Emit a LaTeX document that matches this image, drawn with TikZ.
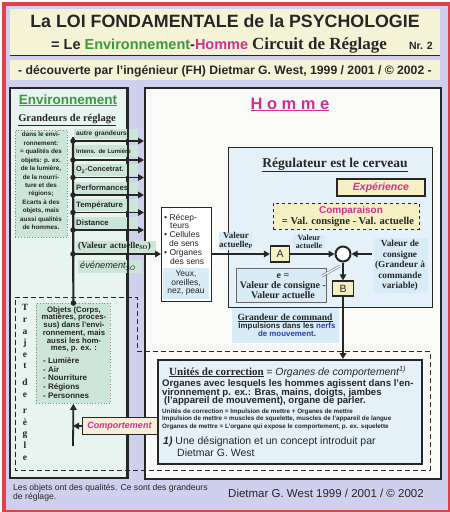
\documentclass[tikz,border=0pt]{standalone}
\usepackage{fontspec}
\setmainfont{Liberation Sans}
\newfontfamily\serif{Liberation Serif}
\usetikzlibrary{arrows.meta}
\definecolor{redb}{HTML}{E0404A}
\definecolor{lav}{HTML}{CFCFEE}
\definecolor{pyel}{HTML}{F4F3D6}
\definecolor{byel}{HTML}{F5EFC4}
\definecolor{envbg}{HTML}{E8F4F0}
\definecolor{hombg}{HTML}{FAFBF8}
\definecolor{lgreen}{HTML}{CBE6D8}
\definecolor{lblue}{HTML}{D8ECF7}
\definecolor{rblue}{HTML}{E4F1F9}
\definecolor{gtext}{HTML}{3C9A3C}
\definecolor{mag}{HTML}{D2308E}
\definecolor{ink}{HTML}{262626}
\definecolor{nblue}{HTML}{2B3FB0}
\definecolor{kfill}{HTML}{F8EDD6}
\newcommand\fsz[2]{\fontsize{#1}{#2}\selectfont}
\begin{document}
\begin{tikzpicture}[x=1pt,y=-1pt,
  every node/.style={text=ink, inner sep=0pt},
  panel/.style={draw=ink, inner sep=0pt, anchor=north west},
  arr/.style={draw=ink, line width=1.8pt, -{Triangle[length=6pt,width=6.5pt]}},
  jdot/.style={circle, fill=ink, inner sep=0pt, minimum size=5.5pt},
  lab/.style={fill=lgreen, anchor=west, text width=60pt, inner xsep=2pt, minimum height=10.5pt, align=left},
  sb/.style={font=\serif\bfseries},
]
\useasboundingbox (0,0) rectangle (450,512);
% frame
\node[panel, draw=redb, fill=lav, line width=4pt, minimum width=446pt, minimum height=508pt] (frame) at (2,2) {};
% title
\node[panel, draw=none, fill=pyel, minimum width=430pt, minimum height=46pt] (tbox) at (10,9) {};
\draw[ink, line width=1.2pt] (tbox.south west) -- (tbox.south east);
\node[panel, draw=none, fill=pyel, minimum width=430pt, minimum height=20pt] (sbox) at (10,60) {};
\node[anchor=base, font=\bfseries\fsz{17.8}{22}] (t1) at (225,27.5) {La LOI FONDAMENTALE de la PSYCHOLOGIE};
\node[anchor=base west, font=\bfseries\fsz{14.5}{18}] (t2) at (51,49.5) {= Le \textcolor{gtext}{Environnement}-\textcolor{mag}{Homme} {\serif\fsz{17}{18}Circuit de Réglage}};
\node[anchor=base east, font=\bfseries\fsz{10.5}{12}] (nr) at (433,49) {Nr. 2};
\node[anchor=base, font=\bfseries\fsz{12.2}{14}] (sub) at (225,74.5) {- découverte par l’ingénieur (FH) Dietmar G. West, 1999 / 2001 / © 2002 -};
% panels
\node[panel, line width=2pt, fill=envbg, minimum width=117pt, minimum height=390pt] (env) at (9,87) {};
\node[panel, line width=2pt, fill=hombg, minimum width=296pt, minimum height=391pt] (homme) at (144,87) {};
% trajet de regle dashed outline
\draw[ink, line width=0.9pt, dash pattern=on 5pt off 3pt] (15,297) -- (137,297) -- (137,351) -- (430,351) -- (430,470) -- (15,470) -- cycle;
% environment texts
\node[anchor=base, font=\bfseries\fsz{13.5}{16}, text=gtext] (envt) at (68,104) {\underline{Environnement}};
\node[anchor=base, sb, font=\serif\bfseries\fsz{10.5}{12}] (gdr) at (67,121) {\underline{Grandeurs de réglage}};
\node[panel, draw=ink!55, dotted, line width=0.8pt, fill=lgreen, minimum width=52pt, minimum height=107pt] (qbox) at (15,130) {};
\node[align=center, font=\bfseries\fsz{6.3}{8.45}] (qtext) at (41,181) {dans le envi-\\ronnement:\\= qualités des\\objets: p. ex.\\de la lumière,\\de la nourri-\\ture et des\\régions;\\Ecarts à des\\objets, mais\\aussi qualités\\de hommes.};
% labels on arrows
\node[lab, font=\bfseries\fsz{6.6}{8}] (l1) at (74,134) {autre grandeurs};
\node[lab, font=\bfseries\fsz{6}{8}, minimum height=12pt] (l2) at (74,151) {Intens. de Lumière};
\node[lab, font=\bfseries\fsz{7.3}{9}, minimum height=12pt] (l3) at (74,170) {O\textsubscript{2}-Concetrat.};
\node[lab, font=\bfseries\fsz{7.8}{9}, minimum height=12pt] (l4) at (74,187.5) {Performances};
\node[lab, font=\bfseries\fsz{7.8}{9}, minimum height=12pt] (l5) at (74,205) {Température};
\node[lab, font=\bfseries\fsz{7.8}{9}, minimum height=12pt] (l6) at (74,222.5) {Distance};
\node[lab, text width=76pt, font=\serif\bfseries\fsz{9}{10}, minimum height=12pt] (l7) at (76,246.5) {(Valeur actuelle\textsubscript{SO})};
\node[lab, text width=60pt, font=\itshape\fsz{9.2}{10}, minimum height=13pt] (l8) at (78,266) {événement\textsubscript{SO}};
\draw[ink, line width=2pt] (env.north east) -- (env.south east);
% bus
\node[panel, draw=ink!55, dotted, line width=0.8pt, fill=lgreen, minimum width=74pt, minimum height=100pt] (obj) at (36,303) {};
\coordinate (bustop) at (73,137);
\draw[ink, line width=2.2pt] (bustop) -- (obj.north);
\coordinate (r1) at (73,141);
\coordinate (r2) at (73,160);
\coordinate (r3) at (73,177.5);
\coordinate (r4) at (73,195);
\coordinate (r5) at (73,212.5);
\coordinate (r6) at (73,230);
\coordinate (r7) at (73,254);
\foreach \r in {r1,r2,r3,r4,r5,r6} {
  \draw[arr] (\r) -- (\r -| homme.west);
  \node[jdot] at (\r) {};
}
% sensor box
\node[panel, line width=1.2pt, fill=white, minimum width=50pt, minimum height=94pt] (sens) at (161,207) {};
\draw[arr] (r7) -- (r7 -| sens.west);
\node[jdot] at (r7) {};
\node[jdot] at (obj.north) {};
\fill[lblue] (163,268) rectangle (209,299);
\node[anchor=west, align=left, font=\fsz{8.5}{8.8}] (senst) at (164,239) {• Récep-\\\hspace{6pt}teurs\\• Cellules\\\hspace{5pt}de sens\\• Organes\\\hspace{6pt}des sens};
\node[align=center, font=\fsz{8.5}{8.8}] (yeux) at (186,283) {Yeux,\\oreilles,\\nez, peau};
% Homme title
\node[anchor=base, font=\bfseries\fsz{16.5}{18}, text=mag] (homt) at (290,109) {\underline{H o m m e}};
% regulateur
\node[panel, line width=1.4pt, fill=rblue, minimum width=204pt, minimum height=160pt] (reg) at (228,147) {};
\node[anchor=base, font=\serif\bfseries\fsz{13.5}{15}] (regt) at (335,167) {\underline{Régulateur est le cerveau}};
\node[draw=ink, line width=1.2pt, fill=byel, minimum width=88pt, minimum height=17pt, font=\bfseries\itshape\fsz{10.5}{12}, text=mag] (exp) at (381,187.5) {Expérience};
\node[draw=ink, dashed, line width=0.8pt, fill=byel, minimum width=146pt, minimum height=26pt] (compbox) at (346,216) {};
\node[font=\bfseries\fsz{10}{12}, text=mag] (compt) at (351,210.5) {Comparaison};
\node[font=\serif\bfseries\fsz{10.5}{12}] (compf) at (348,222) {= Val. consigne - Val. actuelle};
% e box
\node[panel, draw=ink!70, line width=0.8pt, fill=lblue, minimum width=90pt, minimum height=34pt] (ebox) at (236,268) {};
\node[align=center, font=\serif\bfseries\fsz{10}{10}] (et) at (283,286) {e =\\Valeur de consigne -\\Valeur actuelle};
% labels
\fill[lblue] (219,232) rectangle (252,250);
\node[align=center, font=\serif\bfseries\fsz{9}{8.5}] (vap) at (236,240.5) {Valeur\\actuelle\textsubscript{P}};
\fill[lblue] (293,235) rectangle (325,248);
\node[align=center, font=\serif\bfseries\fsz{8}{7.5}] (va) at (309,242) {Valeur\\actuelle};
\fill[lblue] (374,238) rectangle (428,293);
\node[align=center, font=\serif\bfseries\fsz{9.3}{10.6}] (vc) at (400,265.5) {Valeur de\\consigne\\(Grandeur à\\commande\\variable)};
% loop elements
\node[draw=ink, line width=1.2pt, fill=byel, minimum width=19pt, minimum height=16pt, font=\fsz{10.5}{12}] (A) at (280,254) {A};
\node[draw=ink, line width=1.2pt, fill=byel, minimum width=21pt, minimum height=15pt, font=\fsz{10.5}{12}] (B) at (343,288.5) {B};
\node[circle, draw=ink, line width=2pt, fill=white, minimum size=15pt] (cmp) at (343,254) {};
\coordinate (cs) at (372,254);
\draw[arr] (A.west -| sens.east) -- (A.west);
\draw[arr] (A.east) -- (cmp.west);
\draw[arr] (cs) -- (cmp.east);
\draw[arr] (cmp.south) -- (B.north);
\coordinate (pa) at (322,276);
\coordinate (pb) at (340,266);
\draw[gray, line width=2.6pt] (pa) -- (pb);
\draw[white, line width=1.2pt] (pa) -- (pb);
% grandeur de command
\fill[lblue] (232,308) rectangle (339,343);
\node[anchor=base, font=\serif\bfseries\fsz{9.5}{11}] (gdc) at (285,320) {\underline{Grandeur de command}};
\node[align=center, font=\bfseries\fsz{7.9}{8.4}] (imp) at (287,329.5) {Impulsions dans les \textcolor{nblue}{nerfs}\\\textcolor{nblue}{de mouvement}.};
% unites
\node[panel, line width=2pt, fill=rblue, minimum width=264pt, minimum height=104pt] (uni) at (157,359) {};
\draw[arr] (B.south) -- (B.south |- uni.north);
\node[anchor=base west] (u1) at (169,375) {{\serif\bfseries\fsz{11}{12}\underline{Unités de correction}} {\itshape\fsz{10.4}{12}= Organes de comportement\textsuperscript{1)}}};
\node[anchor=base west, align=left, font=\bfseries\fsz{9.6}{8.6}] (u2) at (162,386.5) {Organes avec lesquels les hommes agissent dans l'en-};
\node[anchor=base west, font=\bfseries\fsz{9.6}{8.6}] (u3) at (162,395) {vironnement p. ex.: Bras, mains, doigts, jambes};
\node[anchor=base west, font=\bfseries\fsz{9.6}{8.6}] (u4) at (164,403.5) {(l'appareil de mouvement), organe de parler.};
\node[anchor=base west, font=\bfseries\fsz{6.3}{7}] (u5) at (162,413) {Unités de correction = Impulsion de mettre + Organes de mettre};
\node[anchor=base west, font=\bfseries\fsz{6.3}{7}] (u6) at (162,420.5) {Impulsion de mettre = muscles de squelette, muscles de l'appareil de langue};
\node[anchor=base west, font=\bfseries\fsz{6.3}{7}] (u7) at (162,428) {Organes de mettre = L'organe qui expose le comportement, p. ex. squelette};
\node[anchor=base west, font=\fsz{10.5}{12}] (u8) at (163,444) {{\bfseries\itshape 1)} Une désignation et un concept introduit par};
\node[anchor=base west, font=\fsz{10.5}{12}] (u9) at (177,456) {Dietmar G. West};
% objets
\node[align=center, font=\bfseries\fsz{7.8}{7.7}] (objt) at (74,329.5) {Objets (Corps,\\matières, proces-\\sus) dans l'envi-\\ronnement, mais\\aussi les hom-\\mes, p. ex. :};
\node[anchor=west, align=left, font=\bfseries\fsz{8}{8.7}] (objl) at (43,378) {- Lumière\\- Air\\- Nourriture\\- Régions\\- Personnes};
% trajet letters
\node[align=center, font=\serif\bfseries\fsz{9.5}{11.6}] (traj) at (25,382.5) {T\\r\\a\\j\\e\\t\\[5pt]d\\e\\[5pt]r\\è\\g\\l\\e};
% comportement
\node[draw=ink, line width=1pt, fill=kfill, minimum width=75pt, minimum height=17pt, font=\bfseries\itshape\fsz{9}{10}, text=mag] (komp) at (119.5,426) {Comportement};
\coordinate (kb) at (73,446);
\draw[arr] (kb) -- (obj.south);
\draw[arr] (komp.west) -- (komp.west -| kb);
% footer
\node[anchor=west, align=left, font=\fsz{8.6}{8.8}] (f1) at (13,492.5) {Les objets ont des qualités. Ce sont des grandeurs\\de réglage.};
\node[anchor=base west, font=\fsz{11.5}{13}] (f2) at (228,497) {Dietmar G. West 1999 / 2001 / © 2002};
\end{tikzpicture}
\end{document}
